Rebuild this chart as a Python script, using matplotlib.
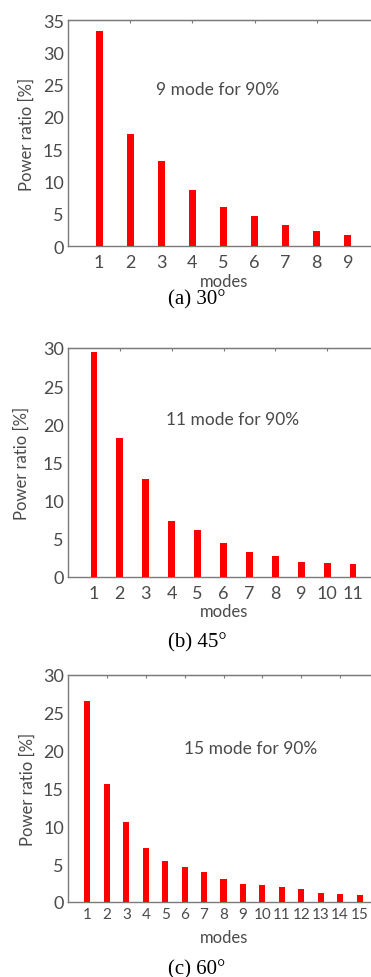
import matplotlib
matplotlib.use("Agg")
import matplotlib.pyplot as plt

# ---- data ----
modes_a = [1, 2, 3, 4, 5, 6, 7, 8, 9]
ratio_a = [33.3, 17.3, 13.2, 8.7, 6.0, 4.7, 3.2, 2.4, 1.7]
modes_b = [1, 2, 3, 4, 5, 6, 7, 8, 9, 10, 11]
ratio_b = [29.5, 18.2, 12.8, 7.3, 6.2, 4.4, 3.3, 2.7, 2.0, 1.8, 1.7]
modes_c = list(range(1, 16))
ratio_c = [26.5, 15.6, 10.6, 7.2, 5.45, 4.66, 3.9, 3.0, 2.4, 2.24, 2.0, 1.76, 1.2, 1.1, 0.9]
notes = ["9 mode for 90%", "11 mode for 90%", "15 mode for 90%"]
captions = ["(a) 30°", "(b) 45°", "(c) 60°"]
ymaxes = [35, 30, 30]
yticks = [[0, 5, 10, 15, 20, 25, 30, 35], [0, 5, 10, 15, 20, 25, 30], [0, 5, 10, 15, 20, 25, 30]]

W, H = 371, 978
fig = plt.figure(figsize=(W / 100, H / 100), dpi=100)
fig.patch.set_facecolor("white")

SANS = ["Lato", "DejaVu Sans"]
SERIF = ["Liberation Serif", "DejaVu Serif"]
TXT = "#4a4a4a"
SP = "#7a7a7a"

panels = [
    dict(m=modes_a, r=ratio_a, top=21, bot=247, xr=10, bw=0.22, tfs=13, xpad=5.5, my=282, cy=300,
         nx=156, ny=90, ylx=27),
    dict(m=modes_b, r=ratio_b, top=349, bot=578, xr=12, bw=0.26, tfs=13, xpad=5.5, my=612, cy=643,
         nx=166, ny=420, ylx=22),
    dict(m=modes_c, r=ratio_c, top=676, bot=903, xr=16, bw=0.31, tfs=11, xpad=3.5, my=938, cy=970,
         nx=184, ny=749, ylx=28),
]

left_px = 68
axw_px = 311

for i, p in enumerate(panels):
    ax = fig.add_axes([left_px / W, (H - p["bot"]) / H, axw_px / W, (p["bot"] - p["top"]) / H])
    ax.bar(p["m"], p["r"], width=p["bw"], color="#ff0000", zorder=3)
    ax.set_xlim(0, p["xr"])
    ax.set_ylim(0, ymaxes[i])
    ax.set_yticks(yticks[i])
    ax.set_yticklabels([str(v) for v in yticks[i]], fontsize=13, color=TXT, family=SANS)
    ax.set_xticks(p["m"])
    ax.set_xticklabels([str(v) for v in p["m"]], fontsize=p["tfs"], color=TXT, family=SANS)
    ax.tick_params(axis="x", length=0, pad=p["xpad"])
    ax.tick_params(axis="y", length=0, pad=3)
    sec = ax.secondary_xaxis("top")
    sec.set_xticks(list(range(2, p["xr"], 2)))
    sec.set_xticklabels([])
    sec.tick_params(direction="in", length=2.5, color=SP, width=0.8)
    sec.spines["top"].set_color(SP)
    for s in ["left", "bottom", "top"]:
        ax.spines[s].set_color(SP)
        ax.spines[s].set_linewidth(1.0)
    ax.spines["right"].set_visible(False)
    ax.set_facecolor("white")

    fig.text(p["nx"] / W, 1 - p["ny"] / H, notes[i], fontsize=12.5, color=TXT, family=SANS,
             ha="left", va="center")
    fig.text(p["ylx"] / W, 1 - ((p["top"] + p["bot"]) / 2) / H, "Power ratio [%]", fontsize=12,
             color=TXT, family=SANS, rotation=90, ha="center", va="center")
    fig.text(224 / W, 1 - p["my"] / H, "modes", fontsize=12, color=TXT, family=SANS,
             ha="center", va="center")
    fig.text(197 / W, 1 - p["cy"] / H, captions[i], fontsize=15, color="black", family=SERIF,
             ha="center", va="center")

fig.savefig("out.png", dpi=100, facecolor="white")
